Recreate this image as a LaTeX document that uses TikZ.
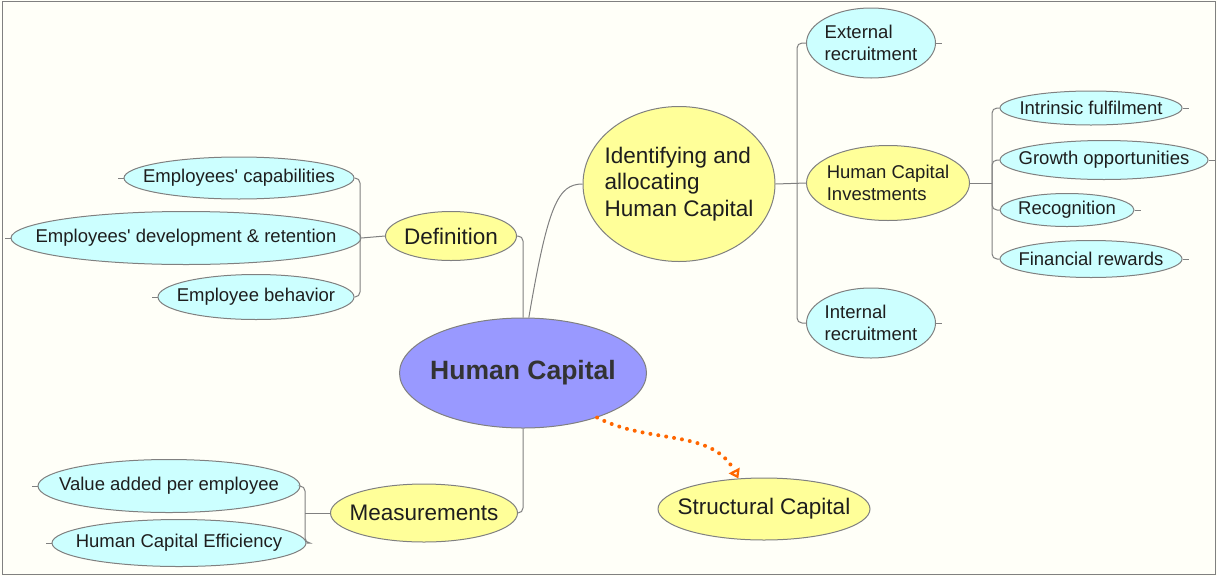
\documentclass[tikz,border=0pt]{standalone}
\usepackage{fontspec}
\setmainfont{Liberation Sans}
\usetikzlibrary{shapes.geometric,arrows.meta}
\definecolor{hcblue}{RGB}{153,153,255}
\definecolor{topicyellow}{RGB}{255,255,153}
\definecolor{leafcyan}{RGB}{204,255,255}
\definecolor{linegray}{RGB}{128,128,128}
\definecolor{paper}{RGB}{255,255,248}
\definecolor{deporange}{RGB}{255,102,0}
\definecolor{inkgray}{RGB}{30,30,30}
\begin{document}
\begin{tikzpicture}[x=1pt, y=-1pt,
  bubble/.style={shape=ellipse, draw=linegray, line width=1pt, inner xsep=-40pt, inner ysep=0pt, text=inkgray},
  topic/.style={bubble, fill=topicyellow, font=\fontsize{22.5}{26.5}\selectfont},
  sub/.style={bubble, fill=topicyellow, font=\fontsize{18.5}{21.5}\selectfont},
  leaf/.style={bubble, fill=leafcyan, font=\fontsize{18.5}{21.5}\selectfont},
  conn/.style={draw=linegray, line width=1pt, rounded corners=5pt},
  dep/.style={draw=deporange, line width=4pt, line cap=round, dash pattern=on 0pt off 8pt,
    -{Triangle[open, line width=3pt, length=9pt, width=12pt]}}
]
\useasboundingbox (0,0) rectangle (1217,576);
\fill[paper] (0,0) rectangle (1217,576);
\draw[linegray, line width=1pt] (2,1) rectangle (1215,574);

% centre and main topics
\node[bubble, fill=hcblue, minimum width=247, minimum height=110, text=black!80, font=\fontsize{26.5}{30}\selectfont\bfseries] (hc) at (523,373) {Human Capital};
\node[topic, minimum width=192, minimum height=155, align=left] (idn) at (679,184) {Identifying and\\allocating\\Human Capital};
\node[topic, minimum width=131, minimum height=49] (def) at (451,236) {Definition};
\node[topic, minimum width=187, minimum height=58] (meas) at (424,513) {Measurements};
\node[topic, minimum width=212, minimum height=62] (sc) at (764,509) {Structural Capital};

% identifying branch
\node[leaf, minimum width=129, minimum height=70, align=left] (ext) at (871,43) {External\\recruitment};
\node[sub, minimum width=163, minimum height=75, align=left] (hci) at (888,183) {Human Capital\\Investments};
\node[leaf, minimum width=129, minimum height=70, align=left] (int) at (871,323) {Internal\\recruitment};
\node[leaf, minimum width=182, minimum height=34] (intr) at (1091,108) {Intrinsic fulfilment};
\node[leaf, minimum width=208, minimum height=39] (gro) at (1104,160) {Growth opportunities};
\node[leaf, minimum width=134, minimum height=33] (rec) at (1067,210) {Recognition};
\node[leaf, minimum width=182, minimum height=37] (fin) at (1091,259) {Financial rewards};

% definition branch
\node[leaf, minimum width=230, minimum height=42] (cap) at (239,178) {Employees\textquotesingle{} capabilities};
\node[leaf, minimum width=350, minimum height=53] (dev) at (186,238) {Employees\textquotesingle{} development \& retention};
\node[leaf, minimum width=196, minimum height=45] (beh) at (256,297) {Employee behavior};

% measurements branch
\node[leaf, minimum width=262, minimum height=53] (vae) at (169,486) {Value added per employee};
\node[leaf, minimum width=254, minimum height=47] (hce) at (179,543) {Human Capital Efficiency};

\coordinate (defj) at (360,236);
\coordinate (idnj) at (797,183);
\coordinate (hcij) at (992,183);
\coordinate (measj) at (305,513);

\path[conn] (def.east) -| (hc.north);
\path[conn] (meas.east) -| (hc.south);
\path[conn] (hc.84) .. controls (548,205) and (558,184) .. (idn.west);

\path[conn] (cap.east) -| (defj) |- (beh.east);
\path[conn] (def.west) -- (dev.east);
\path[conn] (cap.west) -- ++(-6,0);
\path[conn] (dev.west) -- ++(-6,0);
\path[conn] (beh.west) -- ++(-6,0);

\path[conn] (idn.east) -- (hci.west);
\path[conn] (ext.west) -| (idnj) |- (int.west);
\path[conn] (ext.east) -- ++(6,0);
\path[conn] (int.east) -- ++(6,0);

\path[conn] (hci.east) -- (hcij);
\path[conn] (intr.west) -| (hcij) |- (fin.west);
\path[conn] (hcij) |- (gro.west);
\path[conn] (hcij) |- (rec.west);
\path[conn] (intr.east) -- ++(6,0);
\path[conn] (gro.east) -- ++(6,0);
\path[conn] (rec.east) -- ++(6,0);
\path[conn] (fin.east) -- ++(6,0);

\path[conn] (meas.west) -- (measj);
\path[conn] (vae.east) -| (measj) |- (hce.east);
\path[conn] (vae.west) -- ++(-6,0);
\path[conn] (hce.west) -- ++(-6,0);

\path[dep] (hc.-31) .. controls (650,445) and (712,428) .. (sc.130);
\end{tikzpicture}
\end{document}
